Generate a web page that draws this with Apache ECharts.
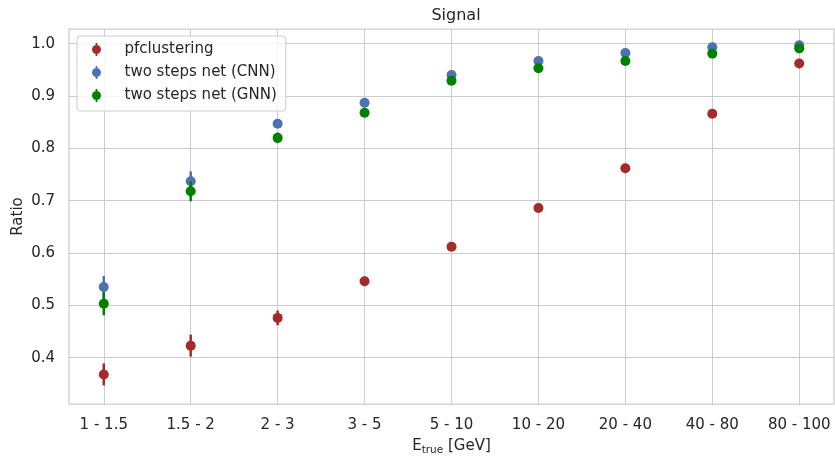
<!DOCTYPE html>
<html><head><meta charset="utf-8">
<script src="https://cdn.jsdelivr.net/npm/echarts@6/dist/echarts.min.js"></script>
<style>html,body{margin:0;padding:0;background:#fff}#c{width:835px;height:456px}</style>
</head><body><div id="c"></div>
<script>
const categories = ['1 - 1.5','1.5 - 2','2 - 3','3 - 5','5 - 10','10 - 20','20 - 40','40 - 80','80 - 100'];
const categoryIndex = [0,1,2,3,4,5,6,7,8];
const pfValues  = [0.368,0.423,0.476,0.546,0.612,0.686,0.762,0.866,0.962];
const pfErrors  = [0.021,0.021,0.014,0.008,0.004,0.003,0.003,0.002,0.002];
const cnnValues = [0.535,0.737,0.847,0.887,0.940,0.967,0.982,0.993,0.997];
const cnnErrors = [0.021,0.019,0.008,0.005,0.003,0.002,0.002,0.001,0.001];
const gnnValues = [0.503,0.718,0.820,0.868,0.929,0.953,0.967,0.981,0.991];
const gnnErrors = [0.022,0.019,0.010,0.005,0.003,0.002,0.002,0.001,0.001];
const yTicks = [0.4,0.5,0.6,0.7,0.8,0.9,1.0];
const seriesNames = ['pfclustering','two steps net (CNN)','two steps net (GNN)'];

const FONT = 'DejaVu Sans';
const TXT = '#262626';
const colors = ['#a52a2a','#4c72b0','#008000'];

function makeSeries(name, color, vals, errs, z) {
  return {
    type: 'custom', name: name, z: z,
    itemStyle: { color: color },
    data: vals.map((v, i) => [categoryIndex[i], v, errs[i]]),
    encode: { x: 0, y: 1 },
    renderItem: function (params, api) {
      const x = api.value(0), y = api.value(1), e = api.value(2);
      const p = api.coord([x, y]);
      const t = api.coord([x, y + e]);
      const b = api.coord([x, y - e]);
      return { type: 'group', children: [
        { type: 'line', shape: { x1: p[0], y1: t[1], x2: p[0], y2: b[1] }, style: { stroke: color, lineWidth: 2.5 } },
        { type: 'circle', shape: { cx: p[0], cy: p[1], r: 5 }, style: { fill: color } }
      ]};
    }
  };
}

const icon = 'path://M4.1,0L5.9,0L5.9,13L4.1,13Z M0.5,6.5A4.5,4.5,0,1,1,9.5,6.5A4.5,4.5,0,1,1,0.5,6.5Z';

const chart = echarts.init(document.getElementById('c'), null, { renderer: 'canvas' });
chart.setOption({
  animation: false,
  backgroundColor: '#ffffff',
  textStyle: { fontFamily: FONT, color: TXT },
  title: {
    text: 'Signal', left: 451, top: 3, textAlign: 'center',
    textStyle: { fontFamily: FONT, fontSize: 16, fontWeight: 'normal', color: TXT }
  },
  legend: {
    orient: 'vertical', left: 77, top: 36,
    padding: [6, 9, 8, 15], itemGap: 8,
    itemWidth: 10, itemHeight: 13,
    borderColor: '#cccccc', borderWidth: 1, borderRadius: 3,
    backgroundColor: 'rgba(255,255,255,0.8)',
    data: seriesNames.map(n => ({ name: n, icon: icon })),
    textStyle: { fontFamily: FONT, fontSize: 15, color: TXT, padding: [0, 0, 0, 18] }
  },
  grid: {
    left: 69, right: 1, top: 29, bottom: 52,
    containLabel: false, outerBoundsMode: 'none',
    show: true, borderColor: '#cccccc', borderWidth: 1.25, backgroundColor: '#ffffff'
  },
  xAxis: {
    type: 'value', min: -0.4, max: 8.4,
    name: '{a|E}{b|true}{a| [GeV]}', nameLocation: 'middle', nameGap: 33, nameMoveOverlap: false,
    nameTextStyle: {
      fontFamily: FONT, color: TXT,
      rich: {
        a: { fontFamily: FONT, fontSize: 15, color: TXT, lineHeight: 19 },
        b: { fontFamily: FONT, fontSize: 10.5, color: TXT, lineHeight: 19, padding: [8, 0, 0, 0] }
      }
    },
    axisLine: { show: false },
    axisTick: { show: false, customValues: categoryIndex },
    axisLabel: { customValues: categoryIndex, formatter: v => categories[Math.round(v)], fontFamily: FONT, fontSize: 15, color: TXT, margin: 14 },
    splitLine: { show: true, lineStyle: { color: '#cccccc', width: 1 } }
  },
  yAxis: {
    type: 'value', min: 0.3115, max: 1.028,
    name: 'Ratio', nameLocation: 'middle', nameGap: 43, nameRotate: 90, nameMoveOverlap: false,
    nameTextStyle: { fontFamily: FONT, fontSize: 15, color: TXT },
    axisLine: { show: false },
    axisTick: { show: false, customValues: yTicks },
    axisLabel: { customValues: yTicks, formatter: v => v.toFixed(1), fontFamily: FONT, fontSize: 15, color: TXT, margin: 14 },
    splitLine: { show: true, lineStyle: { color: '#cccccc', width: 1 } }
  },
  series: [
    makeSeries(seriesNames[0], colors[0], pfValues, pfErrors, 2),
    makeSeries(seriesNames[1], colors[1], cnnValues, cnnErrors, 3),
    makeSeries(seriesNames[2], colors[2], gnnValues, gnnErrors, 4)
  ]
});
</script>
</body></html>
